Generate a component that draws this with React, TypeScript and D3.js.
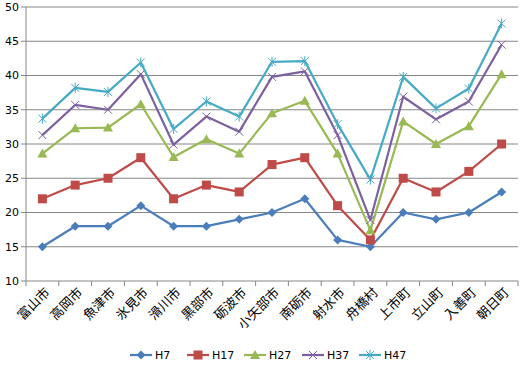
import React from "react";
import * as d3 from "d3";

const categories = ["富山市","高岡市","魚津市","氷見市","滑川市","黒部市","砺波市","小矢部市","南砺市","射水市","舟橋村","上市町","立山町","入善町","朝日町"];
const H7 = [15,18,18,21,18,18,19,20,22,16,15,20,19,20,23];
const H17 = [22,24,25,28,22,24,23,27,28,21,16,25,23,26,30];
const H27 = [28.6,32.3,32.4,35.8,28.1,30.7,28.6,34.5,36.3,28.6,17.4,33.3,30.0,32.6,40.2];
const H37 = [31.3,35.7,35.0,40.2,29.9,34.0,31.8,39.8,40.6,31.3,18.9,36.9,33.6,36.2,44.5];
const H47 = [33.7,38.2,37.6,41.9,32.2,36.2,34.0,42.0,42.1,32.9,24.8,39.8,35.2,38.1,47.6];
const seriesNames = ["H7","H17","H27","H37","H47"];
const yTicks = [10,15,20,25,30,35,40,45,50];

const colors = ["#4A7EBB","#BE4B48","#98B954","#7D60A0","#46AAC5"];
const seriesData = [H7,H17,H27,H37,H47];

function Marker({ type, x, y, color }: { type: number; x: number; y: number; color: string }) {
  if (type === 0) {
    const s = 4.5;
    return <path d={`M${x},${y - s}L${x + s},${y}L${x},${y + s}L${x - s},${y}Z`} fill={color} />;
  }
  if (type === 1) {
    const s = 4.5;
    return <rect x={x - s} y={y - s} width={2 * s} height={2 * s} fill={color} />;
  }
  if (type === 2) {
    const s = 5;
    return <path d={`M${x},${y - s}L${x + s},${y + s * 0.8}L${x - s},${y + s * 0.8}Z`} fill={color} />;
  }
  if (type === 3) {
    const s = 4;
    return <path d={`M${x - s},${y - s}L${x + s},${y + s}M${x - s},${y + s}L${x + s},${y - s}`} stroke={color} strokeWidth={1} fill="none" />;
  }
  const s = 4;
  return (
    <path
      d={`M${x - s},${y - s}L${x + s},${y + s}M${x - s},${y + s}L${x + s},${y - s}M${x},${y - s - 1}L${x},${y + s + 1}`}
      stroke={color}
      strokeWidth={1}
      fill="none"
    />
  );
}

export default function App() {
  const W = 524, H = 368;
  const left = 26, right = 518, top = 7, bottom = 281;
  const x = d3.scaleBand<string>().domain(categories).range([left, right]);
  const y = d3.scaleLinear().domain([10, 50]).range([bottom, top]);
  const line = d3.line<number>()
    .x((_, i) => (x(categories[i]) as number) + x.bandwidth() / 2)
    .y((d) => y(d));
  const ticksX = categories.map((c) => x(c) as number).concat([right]);
  const legendX = [130, 187, 244, 302, 359];

  return (
    <svg width={W} height={H} style={{ position: "absolute", left: 0, top: 0, background: "#fff" }}>
      <rect x={0} y={0} width={W} height={H} fill="#fff" />
      {yTicks.map((t) => (
        <g key={t}>
          {t !== 10 && <line x1={left} x2={right} y1={y(t)} y2={y(t)} stroke="#868686" strokeWidth={1} />}
          <line x1={left - 5} x2={left} y1={y(t)} y2={y(t)} stroke="#868686" />
          <text x={left - 7} y={y(t)} dy="0.35em" textAnchor="end" fontFamily="DejaVu Sans" fontSize={11} fill="#000">{t}</text>
        </g>
      ))}
      <line x1={left} x2={left} y1={top} y2={bottom} stroke="#868686" />
      <line x1={left} x2={right} y1={bottom} y2={bottom} stroke="#868686" />
      {ticksX.map((tx, i) => (
        <line key={i} x1={tx} x2={tx} y1={bottom} y2={bottom + 5} stroke="#868686" />
      ))}
      {categories.map((c) => {
        const cx = (x(c) as number) + x.bandwidth() / 2 + 5;
        const cy = bottom + 9;
        return (
          <text key={c} transform={`translate(${cx},${cy}) rotate(-45)`} textAnchor="end" dy="0.35em"
            fontFamily="Noto Sans CJK JP" fontSize={13} fill="#000">{c}</text>
        );
      })}
      {seriesData.map((data, si) => (
        <g key={si}>
          <path d={line(data) as string} fill="none" stroke={colors[si]} strokeWidth={2.2} strokeLinejoin="round" />
          {data.map((v, i) => (
            <Marker key={i} type={si} x={(x(categories[i]) as number) + x.bandwidth() / 2} y={y(v)} color={colors[si]} />
          ))}
        </g>
      ))}
      {seriesNames.map((n, si) => {
        const lx = legendX[si];
        const ly = 355;
        return (
          <g key={n}>
            <line x1={lx} x2={lx + 22} y1={ly} y2={ly} stroke={colors[si]} strokeWidth={2.2} />
            <Marker type={si} x={lx + 11} y={ly} color={colors[si]} />
            <text x={lx + 25} y={ly} dy="0.35em" fontFamily="DejaVu Sans" fontSize={11} fill="#000">{n}</text>
          </g>
        );
      })}
    </svg>
  );
}
